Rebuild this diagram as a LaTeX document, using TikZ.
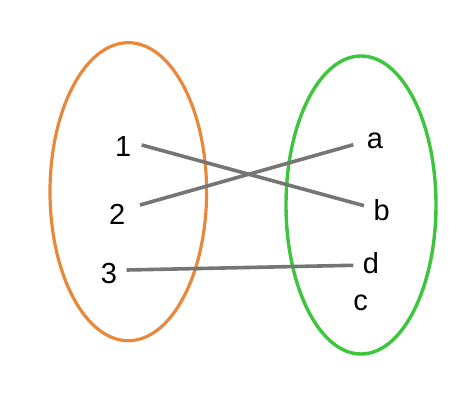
\documentclass[tikz,border=0pt]{standalone}
\usepackage{fontspec}
\setmainfont{Liberation Sans}
\definecolor{setorange}{HTML}{E8883C}
\definecolor{setgreen}{HTML}{3DC63D}
\definecolor{linkgray}{HTML}{757575}
\begin{document}
\begin{tikzpicture}[x=1pt,y=-1pt,
  elem/.style={inner sep=0pt,anchor=center,font=\fontsize{29}{29}\selectfont},
  link/.style={draw=linkgray,line width=3.6pt},
  setA/.style={draw=setorange,line width=3.2pt},
  setB/.style={draw=setgreen,line width=3.4pt}]
\useasboundingbox (0,0) rectangle (474,414);
\fill[white] (0,0) rectangle (474,414);
\draw[setA] (128.3,191.7) ellipse [x radius=78.3pt, y radius=149pt];
\draw[setB] (361,205) ellipse [x radius=75pt, y radius=149pt];
\node[elem] (n1) at (123.3,146.7) {1};
\node[elem] (n2) at (117.3,214) {2};
\node[elem] (n3) at (109,273.3) {3};
\node[elem] (na) at (375,140.5) {a};
\node[elem] (nb) at (381.7,210) {b};
\node[elem] (nd) at (371,263.3) {d};
\node[elem] (nc) at (360.7,303) {c};
\coordinate (s1) at (141.7,145);
\coordinate (s2) at (140,205);
\coordinate (s3) at (126.7,270);
\coordinate (ta) at (353.3,144.7);
\coordinate (tb) at (364,205.7);
\coordinate (td) at (353.3,265.3);
\draw[link] (s1) -- (tb);
\draw[link] (s2) -- (ta);
\draw[link] (s3) -- (td);
\end{tikzpicture}
\end{document}
